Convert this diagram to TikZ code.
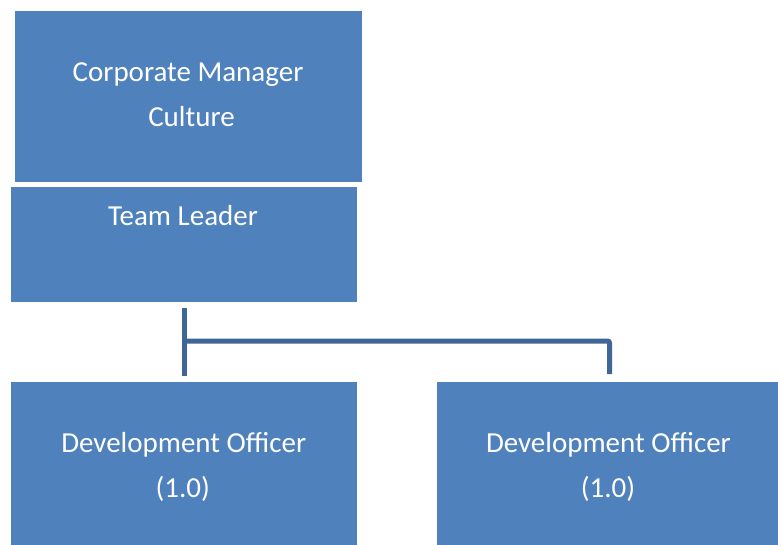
\documentclass[tikz,border=0pt]{standalone}
\usepackage{fontspec}
\setmainfont{Carlito}
\definecolor{boxblue}{HTML}{4F81BD}
\definecolor{linkblue}{HTML}{3E6797}
\begin{document}
\begin{tikzpicture}[x=1pt,y=-1pt,
 box/.style={fill=boxblue, draw=none, inner sep=0pt, outer sep=0pt},
 lbl/.style={text=white, font=\fontsize{29}{35}\selectfont, anchor=base, inner sep=0pt},
 conn/.style={draw=linkblue, line width=5pt}]
\useasboundingbox[fill=white] (0,0) rectangle (778,545);
% boxes
\node[box, minimum width=346.7pt, minimum height=170.7pt] (cm) at (188.65,96.35) {};
\node[box, minimum width=346.6pt, minimum height=115.3pt] (tl) at (184,244.65) {};
\node[box, minimum width=346.6pt, minimum height=163.3pt] (do1) at (184,463.35) {};
\node[box, minimum width=341.5pt, minimum height=163.3pt] (do2) at (607.25,463.35) {};
% texts
\node[lbl] (cmt1) at (188,82) {Corporate Manager};
\node[lbl] (cmt2) at (191.5,127) {Culture};
\node[lbl] (tlt) at (183,225.7) {Team Leader};
\node[lbl] (d1t1) at (183.7,452.7) {Development Officer};
\node[lbl] (d1t2) at (182.8,497.3) {(1.0)};
\node[lbl] (d2t1) at (608.4,452.7) {Development Officer};
\node[lbl] (d2t2) at (608,497.3) {(1.0)};
% connectors
\coordinate (bus) at (184,341);
\coordinate (d2in) at ([xshift=2.25pt,yshift=7.7pt]do2.north);
\draw[conn] ([yshift=-6pt]tl.south) -- ([yshift=5.7pt]do1.north);
\draw[conn, rounded corners=2pt] (bus) -- (bus -| d2in) -- (d2in);
\end{tikzpicture}
\end{document}
